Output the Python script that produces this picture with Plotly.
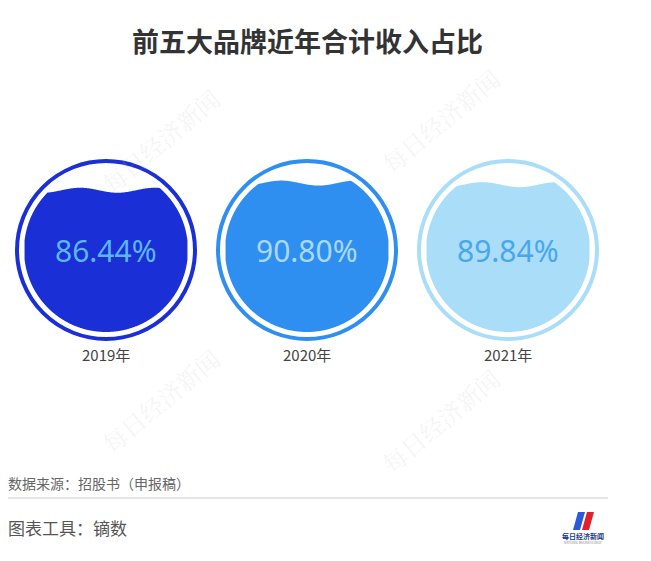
import numpy as np
import plotly.graph_objects as go

years = ["2019年", "2020年", "2021年"]
shares = [86.44, 90.80, 89.84]
fill_colors = ["#1a2fd6", "#2e8ff0", "#a9ddf8"]
text_colors = ["#5cb6f6", "#a9d9fa", "#4aa6ec"]

W, H = 651, 561
OFF = 8  # page body margin
centers_x = [106, 307, 508]
cy = 250
r_out, r_in = 89, 82

fig = go.Figure()

for i, (yr, v) in enumerate(zip(years, shares)):
    cx = centers_x[i]
    # outer ring
    fig.add_shape(type="circle", x0=cx - r_out, x1=cx + r_out, y0=cy - r_out, y1=cy + r_out,
                  line=dict(color=fill_colors[i], width=4), fillcolor="white", layer="below")
    # liquid fill
    level = cy + r_in - 2 * r_in * v / 100
    xs = np.linspace(cx - r_in, cx + r_in, 300)
    half = np.sqrt(np.maximum(r_in ** 2 - (xs - cx) ** 2, 0))
    wave = level + 2.5 * np.sin((xs - cx) / r_in * 2.2 * np.pi + 0.6)
    top = np.maximum(wave, cy - half)
    bot = cy + half
    m = top < bot
    px = np.concatenate([xs[m], xs[m][::-1]])
    py = np.concatenate([top[m], bot[m][::-1]])
    fig.add_trace(go.Scatter(x=px, y=py, fill="toself", fillcolor=fill_colors[i], mode="none",
                             hoverinfo="skip", showlegend=False))
    fig.add_annotation(x=cx, y=cy, text=f"{v:.2f}%", showarrow=False,
                       font=dict(size=30, color=text_colors[i], family="Noto Sans"))
    fig.add_annotation(x=cx, y=354, text=yr, showarrow=False,
                       font=dict(size=15, color="#444444"))

# watermarks
for wx, wy in [(160, 140), (440, 120), (160, 400), (440, 420)]:
    fig.add_annotation(x=wx, y=wy, text="每日经济新闻", showarrow=False, textangle=-40,
                       font=dict(size=24, color="rgba(200,200,200,0.2)", family="Noto Serif CJK SC, serif"))

fig.add_annotation(x=307, y=40, text="<b>前五大品牌近年合计收入占比</b>", showarrow=False,
                   font=dict(size=27, color="#333333"))
fig.add_annotation(x=OFF + 0.5, y=483, text="数据来源：招股书（申报稿）", showarrow=False, xanchor="left",
                   xshift=-3, font=dict(size=14, color="#666666"))
fig.add_shape(type="line", x0=OFF, x1=608, y0=498, y1=498, line=dict(color="#dddddd", width=1.5))
fig.add_annotation(x=OFF + 0.5, y=527, text="图表工具：镝数", showarrow=False, xanchor="left",
                   xshift=-3, font=dict(size=17, color="#555555"))
# logo
fig.add_shape(type="path", path="M 573 530 L 578 512 L 585 512 L 580 530 Z", fillcolor="#2a5bd7", line_width=0)
fig.add_shape(type="path", path="M 582 530 L 587 512 L 594 512 L 589 530 Z", fillcolor="#e0202a", line_width=0)
fig.add_annotation(x=583, y=536, text="<b>每日经济新闻</b>", showarrow=False,
                   font=dict(size=7, color="#1a3a8a"))
fig.add_annotation(x=583, y=543, text="NATIONAL BUSINESS DAILY", showarrow=False,
                   font=dict(size=3, color="#888888"))

fig.update_layout(width=W - OFF, height=H - OFF, margin=dict(l=0, r=0, t=0, b=0),
                  paper_bgcolor="white", plot_bgcolor="white",
                  font=dict(family="Noto Sans CJK SC"),
                  xaxis=dict(range=[OFF, W], visible=False, fixedrange=True),
                  yaxis=dict(range=[H, OFF], visible=False, fixedrange=True))

fig.write_html("out.html", config={"displayModeBar": False})
